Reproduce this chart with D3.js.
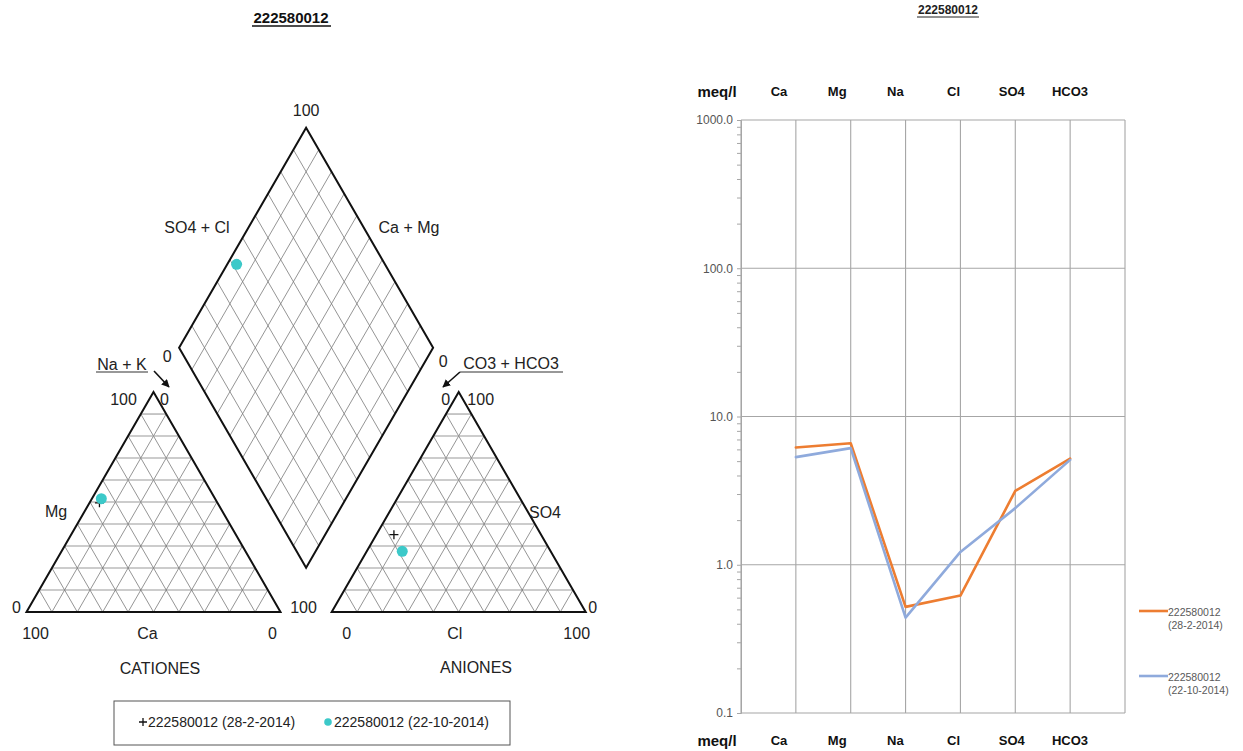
<!DOCTYPE html>
<html>
<head>
<meta charset="utf-8">
<script src="https://cdn.jsdelivr.net/npm/d3@7"></script>
<style>
  html, body { margin: 0; padding: 0; background: #fff; }
  svg { display: block; font-family: "Liberation Sans", Arial, sans-serif; }
</style>
</head>
<body>
<svg id="chart" width="1243" height="751"></svg>
<script>
// Well 222580012: major ion concentrations (meq/l) for two sampling dates
const ions = ["Ca", "Mg", "Na", "Cl", "SO4", "HCO3"];
const sampleNames = ["222580012 (28-2-2014)", "222580012 (22-10-2014)"];
const sampleLegendLines = [["222580012", "(28-2-2014)"], ["222580012", "(22-10-2014)"]];
const feb2014 = [6.18, 6.60, 0.52, 0.62, 3.15, 5.19];
const oct2014 = [5.32, 6.12, 0.44, 1.22, 2.41, 5.10];
const logTicks = [0.1, 1, 10, 100, 1000];
const pctTicks = [10, 20, 30, 40, 50, 60, 70, 80, 90];
const wellId = "222580012";

const samples = [feb2014, oct2014];
const lineColors = ["#ED7D31", "#8FAADC"];
const svg = d3.select("#chart");
const FONT = "'Liberation Sans', Arial, sans-serif";

// ---------------- Piper diagram ----------------
const side = 254, gap = 51.2, baseY = 612, catX0 = 26.5;
const anX0 = catX0 + side + gap;
const triH = side * Math.sqrt(3) / 2;
const L = d3.scaleLinear().domain([0, 100]).range([0, side]);
const H = d3.scaleLinear().domain([0, 100]).range([0, triH]);

// cation triangle: Ca bottom-left, Mg top, Na+K bottom-right
const catPt = (ca, mg, na) => [catX0 + L(na + mg / 2), baseY - H(mg)];
// anion triangle: HCO3 bottom-left, SO4 top, Cl bottom-right
const anPt = (cl, so4, hco3) => [anX0 + L(cl + so4 / 2), baseY - H(so4)];
// central diamond from Na+K % and Cl+SO4 %
const dPt = (na, clso4) => {
  const p = catX0 + L(na), q = anX0 + L(clso4);
  return [(p + q) / 2, baseY - (q - p) * Math.sqrt(3) / 2];
};

function percents(v) {
  const cSum = v[0] + v[1] + v[2], aSum = v[3] + v[4] + v[5];
  return {
    ca: 100 * v[0] / cSum, mg: 100 * v[1] / cSum, na: 100 * v[2] / cSum,
    cl: 100 * v[3] / aSum, so4: 100 * v[4] / aSum, hco3: 100 * v[5] / aSum
  };
}

const piper = svg.append("g");
const gridG = piper.append("g").attr("stroke", "#7a7a7a").attr("stroke-width", 0.8).attr("fill", "none");
const line2 = (a, b) => gridG.append("line").attr("x1", a[0]).attr("y1", a[1]).attr("x2", b[0]).attr("y2", b[1]);

pctTicks.forEach(t => {
  // cation grid
  line2(catPt(100 - t, t, 0), catPt(0, t, 100 - t)).attr("stroke", "#999").attr("stroke-width", 1.1);
  line2(catPt(100 - t, 0, t), catPt(0, 100 - t, t));
  line2(catPt(t, 0, 100 - t), catPt(t, 100 - t, 0));
  // anion grid
  line2(anPt(0, t, 100 - t), anPt(100 - t, t, 0)).attr("stroke", "#999").attr("stroke-width", 1.1);
  line2(anPt(t, 0, 100 - t), anPt(t, 100 - t, 0));
  line2(anPt(0, 100 - t, t), anPt(100 - t, 0, t));
  // diamond grid
  line2(dPt(t, 0), dPt(t, 100));
  line2(dPt(0, t), dPt(100, t));
});

const outline = pts => piper.append("path")
  .attr("d", d3.line()(pts) + "Z")
  .attr("fill", "none").attr("stroke", "#111").attr("stroke-width", 2).attr("stroke-linejoin", "miter");
outline([catPt(100, 0, 0), catPt(0, 100, 0), catPt(0, 0, 100)]);
outline([anPt(0, 0, 100), anPt(0, 100, 0), anPt(100, 0, 0)]);
outline([dPt(0, 0), dPt(0, 100), dPt(100, 100), dPt(100, 0)]);

// labels
const txt = (x, y, s, opts = {}) => piper.append("text")
  .attr("x", x).attr("y", y).text(s)
  .attr("font-size", opts.size || 16)
  .attr("font-family", FONT)
  .attr("fill", opts.fill || "#222")
  .attr("text-anchor", opts.anchor || "middle")
  .attr("dominant-baseline", "central")
  .attr("font-weight", opts.weight || "normal");

const cBL = catPt(100, 0, 0), cTop = catPt(0, 100, 0), cBR = catPt(0, 0, 100);
const aBL = anPt(0, 0, 100), aTop = anPt(0, 100, 0), aBR = anPt(100, 0, 0);
const dL = dPt(0, 0), dT = dPt(0, 100), dR = dPt(100, 100);

txt(291, 17, wellId, { size: 15, weight: "bold", fill: "#111" });
piper.append("line").attr("x1", 252).attr("x2", 331).attr("y1", 26).attr("y2", 26).attr("stroke", "#111").attr("stroke-width", 1.3);

txt(dT[0], dT[1] - 17, "100");
txt(197, 227, "SO4 + Cl");
txt(409, 227, "Ca + Mg");
txt(dL[0] - 12, dL[1] + 9, "0");
txt(dR[0] + 10, dR[1] + 14, "0");

txt(cTop[0] - 30, cTop[1] + 7, "100");
txt(cTop[0] + 11, cTop[1] + 7, "0");
txt(56, 511, "Mg");
txt(cBL[0] - 10, cBL[1] - 5, "0");
txt(cBR[0] + 23, cBR[1] - 5, "100");
txt(cBL[0] + 9, cBL[1] + 21, "100");
txt((cBL[0] + cBR[0]) / 2 - 6, cBL[1] + 21, "Ca");
txt(cBR[0] - 8, cBR[1] + 21, "0");
txt(160, 668, "CATIONES");

txt(aTop[0] - 13, aTop[1] + 7, "0");
txt(aTop[0] + 22, aTop[1] + 7, "100");
txt(545, 512, "SO4");
txt(aBR[0] + 7, aBR[1] - 5, "0");
txt(aBL[0] + 15, aBL[1] + 21, "0");
txt((aBL[0] + aBR[0]) / 2 - 4, aBL[1] + 21, "Cl");
txt(aBR[0] - 9, aBR[1] + 21, "100");
txt(476, 667, "ANIONES");

// Na + K and CO3 + HCO3 pointers
const defs = svg.append("defs");
defs.append("marker").attr("id", "arrowHead").attr("viewBox", "0 0 10 10")
  .attr("refX", 9).attr("refY", 5).attr("markerWidth", 5).attr("markerHeight", 5)
  .attr("orient", "auto").append("path").attr("d", "M0,0L10,5L0,10Z").attr("fill", "#111");

txt(122, 364, "Na + K");
piper.append("line").attr("x1", 96).attr("x2", 148).attr("y1", 372).attr("y2", 372).attr("stroke", "#333").attr("stroke-width", 1.2);
piper.append("line").attr("x1", 154).attr("y1", 371).attr("x2", 169).attr("y2", 387)
  .attr("stroke", "#111").attr("stroke-width", 1.6).attr("marker-end", "url(#arrowHead)");

txt(511, 363, "CO3 + HCO3");
piper.append("line").attr("x1", 460).attr("x2", 563).attr("y1", 372).attr("y2", 372).attr("stroke", "#333").attr("stroke-width", 1.2);
piper.append("line").attr("x1", 460).attr("y1", 372).attr("x2", 443).attr("y2", 387)
  .attr("stroke", "#111").attr("stroke-width", 1.6).attr("marker-end", "url(#arrowHead)");

// sample markers
const markerG = piper.append("g");
const plus = (g, x, y, r) => g.append("path")
  .attr("d", `M${x - r},${y}H${x + r}M${x},${y - r}V${y + r}`)
  .attr("stroke", "#111").attr("stroke-width", 1.3).attr("fill", "none");
const dot = (g, x, y, r) => g.append("circle").attr("cx", x).attr("cy", y).attr("r", r).attr("fill", "#3CC9C9");

samples.forEach((v, i) => {
  const p = percents(v);
  const pts = [catPt(p.ca, p.mg, p.na), anPt(p.cl, p.so4, p.hco3), dPt(p.na, p.cl + p.so4)];
  pts.forEach(pt => {
    if (i === 0) plus(markerG, pt[0], pt[1], 4.5);
    else dot(markerG, pt[0], pt[1], 5.5);
  });
});
// keep the circles above the crosses
markerG.selectAll("circle").raise();

// legend box
const lg = piper.append("g");
lg.append("rect").attr("x", 114).attr("y", 701).attr("width", 396).attr("height", 44)
  .attr("fill", "none").attr("stroke", "#555").attr("stroke-width", 1);
plus(lg, 143, 722, 4);
lg.append("text").attr("x", 148).attr("y", 722).attr("dominant-baseline", "central")
  .attr("font-size", 14).attr("fill", "#222").text(sampleNames[0]);
dot(lg, 328, 722, 3.8);
lg.append("text").attr("x", 334).attr("y", 722).attr("dominant-baseline", "central")
  .attr("font-size", 14).attr("fill", "#222").text(sampleNames[1]);

// ---------------- Schoeller diagram ----------------
const sx = d3.scaleLinear().domain([0, ions.length + 1]).range([741, 1125]);
const sy = d3.scaleLog().domain([0.1, 1000]).range([713, 120]);
const sch = svg.append("g");

// vertical grid at each ion and at the frame edges
const vCols = d3.range(0, ions.length + 2);
sch.append("g").selectAll("line").data(vCols).join("line")
  .attr("x1", d => sx(d)).attr("x2", d => sx(d))
  .attr("y1", sy(1000)).attr("y2", sy(0.1))
  .attr("stroke", "#a6a6a6").attr("stroke-width", 1.1);
// horizontal grid at each decade
sch.append("g").selectAll("line").data(logTicks).join("line")
  .attr("x1", sx(0)).attr("x2", sx(ions.length + 1))
  .attr("y1", d => sy(d)).attr("y2", d => sy(d))
  .attr("stroke", "#a6a6a6").attr("stroke-width", 1.1);

// y axis with minor ticks
const yAxis = d3.axisLeft(sy)
  .tickValues(sy.ticks())
  .tickSize(4)
  .tickFormat(d => logTicks.includes(d) ? d3.format(".1f")(d) : "");
const ya = sch.append("g").attr("transform", `translate(${sx(0)},0)`).call(yAxis);
ya.select(".domain").attr("stroke", "#a6a6a6");
ya.selectAll(".tick line").attr("stroke", "#a6a6a6");
ya.selectAll(".tick text").attr("font-size", 12).attr("fill", "#555").attr("font-family", FONT).attr("x", -8);

// series lines
const sLine = d3.line().x((d, i) => sx(i + 1)).y(d => sy(d));
samples.forEach((v, i) => {
  sch.append("path").datum(v).attr("d", sLine)
    .attr("fill", "none").attr("stroke", lineColors[i]).attr("stroke-width", 2.6)
    .attr("stroke-linejoin", "round").attr("stroke-linecap", "round");
});

// ion header and footer rows
const headX = d3.scalePoint().domain(ions).range([779, 1070]);
[91, 740].forEach(yy => {
  sch.append("text").attr("x", 717).attr("y", yy).attr("text-anchor", "middle")
    .attr("dominant-baseline", "central").attr("font-size", 15).attr("font-weight", "bold")
    .attr("fill", "#111").text("meq/l");
  sch.append("g").selectAll("text").data(ions).join("text")
    .attr("x", d => headX(d)).attr("y", yy).attr("text-anchor", "middle")
    .attr("dominant-baseline", "central").attr("font-size", 13).attr("font-weight", "bold")
    .attr("fill", "#111").text(d => d);
});

// title
sch.append("text").attr("x", 948).attr("y", 10).attr("text-anchor", "middle")
  .attr("dominant-baseline", "central").attr("font-size", 12).attr("font-weight", "bold")
  .attr("fill", "#222").text(wellId);
sch.append("line").attr("x1", 917).attr("x2", 979).attr("y1", 17).attr("y2", 17)
  .attr("stroke", "#222").attr("stroke-width", 1);

// legend
const legY = [611, 676];
samples.forEach((v, i) => {
  sch.append("line").attr("x1", 1139).attr("x2", 1168).attr("y1", legY[i]).attr("y2", legY[i])
    .attr("stroke", lineColors[i]).attr("stroke-width", 2.6);
  sampleLegendLines[i].forEach((s, j) => {
    sch.append("text").attr("x", 1168).attr("y", legY[i] + 1 + j * 12.5)
      .attr("dominant-baseline", "central").attr("font-size", 10.5)
      .attr("fill", "#595959").text(s);
  });
});
</script>
</body>
</html>
